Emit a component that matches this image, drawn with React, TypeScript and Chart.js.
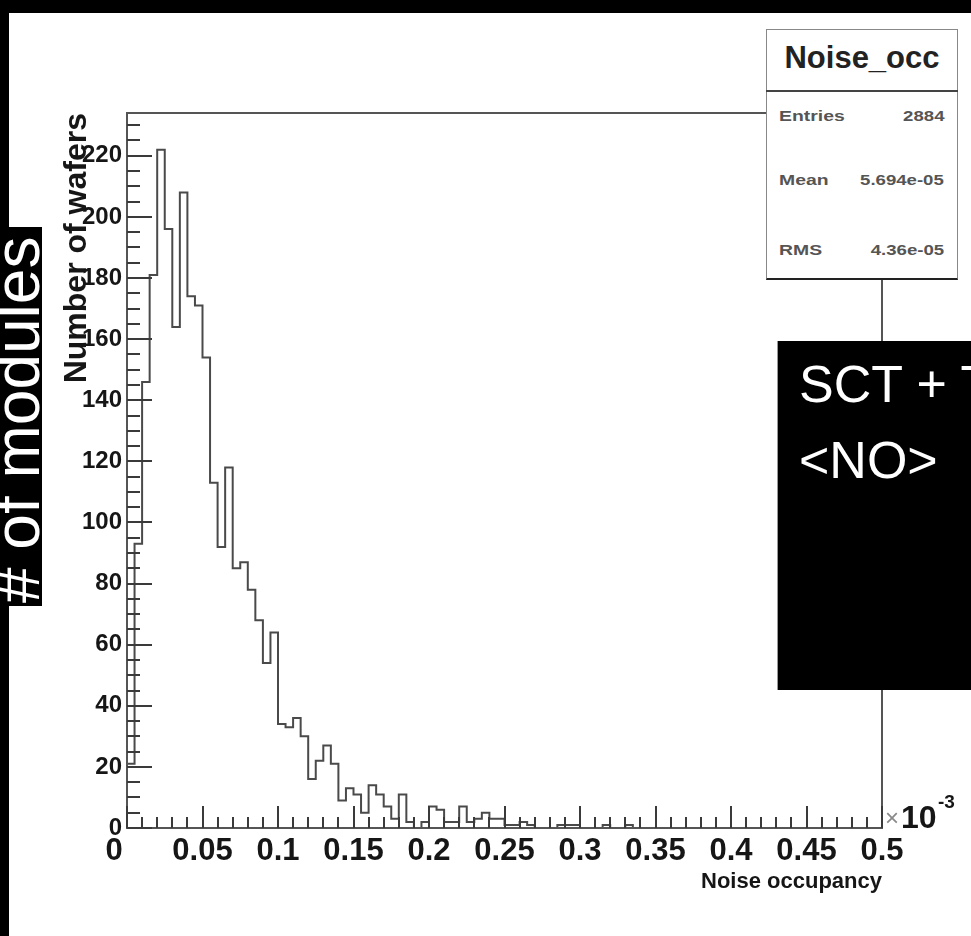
import React, { useEffect, useRef } from "react";
import { Chart, registerables } from "chart.js";

Chart.register(...registerables);

// ---- data (noise occupancy histogram, x in units of 1e-3) ----
const binLow = 0;
const binWidth = 0.005;
const binCounts = [
  21, 93, 146, 181, 222, 196, 164, 208, 174, 171,
  154, 113, 92, 118, 85, 87, 78, 68, 54, 64,
  34, 33, 36, 30, 16, 22, 27, 21, 9, 13,
  11, 5, 14, 11, 7, 3, 11, 2, 0, 2,
  7, 6, 2, 2, 7, 2, 3, 5, 3, 3,
  1, 1, 2, 1, 0, 0, 0, 1, 1, 1,
  0, 0, 0, 1, 0, 0, 1, 0, 0, 0,
  0, 0, 0, 0, 0, 0, 0, 0, 0, 0,
  0, 0, 0, 0, 0, 0, 0, 0, 0, 0,
  0, 0, 0, 0, 0, 0, 0, 0, 0, 0,
];
const xTickValues = [0, 0.05, 0.1, 0.15, 0.2, 0.25, 0.3, 0.35, 0.4, 0.45, 0.5];
const xTickLabels = ["0", "0.05", "0.1", "0.15", "0.2", "0.25", "0.3", "0.35", "0.4", "0.45", "0.5"];
const yTickValues = [0, 20, 40, 60, 80, 100, 120, 140, 160, 180, 200, 220];
const yTickLabels = ["0", "20", "40", "60", "80", "100", "120", "140", "160", "180", "200", "220"];
const xMin = 0;
const xMax = 0.5;
const yMin = 0;
const yMax = 234;
const statsTitle = "Noise_occ";
const statsNames = ["Entries", "Mean", "RMS"];
const statsValues = ["2884", "5.694e-05", "4.36e-05"];

const FONT = "'Liberation Sans', Arial, Helvetica, sans-serif";

const frameTicks = {
  id: "frameTicks",
  afterDatasetsDraw(chart: any) {
    const { ctx, chartArea: a, scales } = chart;
    const x = scales.x;
    const y = scales.y;
    ctx.save();
    ctx.strokeStyle = "#555";
    ctx.lineWidth = 2;
    ctx.strokeRect(a.left, a.top, a.right - a.left, a.bottom - a.top);
    ctx.strokeStyle = "#3a3a3a";
    ctx.lineWidth = 2;
    for (let v = 0; v <= yMax; v += 5) {
      const py = Math.round(y.getPixelForValue(v));
      const len = v % 20 === 0 ? 25 : 13;
      ctx.beginPath();
      ctx.moveTo(a.left, py);
      ctx.lineTo(a.left + len, py);
      ctx.stroke();
    }
    for (let i = 0; i <= 50; i++) {
      const px = Math.round(x.getPixelForValue(i * 0.01));
      const len = i % 5 === 0 ? 22 : 11;
      ctx.beginPath();
      ctx.moveTo(px, a.bottom);
      ctx.lineTo(px, a.bottom - len);
      ctx.stroke();
    }
    ctx.restore();
  },
};

export default function App() {
  const ref = useRef<HTMLCanvasElement | null>(null);

  useEffect(() => {
    if (!ref.current) return;
    const points: { x: number; y: number }[] = [{ x: binLow, y: 0 }];
    binCounts.forEach((c, i) => points.push({ x: binLow + i * binWidth, y: c }));
    points.push({ x: binLow + binCounts.length * binWidth, y: 0 });

    const chart = new Chart(ref.current, {
      type: "line",
      data: {
        datasets: [
          {
            data: points,
            stepped: "before",
            borderColor: "#4a4a4a",
            borderWidth: 2,
            pointRadius: 0,
            fill: false,
          } as any,
        ],
      },
      options: {
        animation: false,
        responsive: false,
        maintainAspectRatio: false,
        layout: { padding: { left: 0, top: 113, right: 89, bottom: 0 } },
        plugins: { legend: { display: false }, tooltip: { enabled: false } },
        scales: {
          x: {
            type: "linear",
            min: xMin,
            max: xMax,
            afterBuildTicks: (s: any) => {
              s.ticks = xTickValues.map((v) => ({ value: v }));
            },
            afterFit: (s: any) => {
              s.height = 108;
            },
            grid: { display: false, drawTicks: false },
            border: { display: false },
            ticks: {
              autoSkip: false,
              maxRotation: 0,
              minRotation: 0,
              padding: 5,
              color: "#161616",
              font: { family: FONT, weight: "bold", size: 31 },
              callback: (_v: any, i: number) => (i === 0 ? xTickLabels[i] + "   " : xTickLabels[i]),
            },
            title: {
              display: true,
              text: "Noise occupancy",
              align: "end",
              color: "#161616",
              font: { family: FONT, weight: "bold", size: 22 },
              padding: { top: 0, bottom: 41 },
            },
          },
          y: {
            type: "linear",
            min: yMin,
            max: yMax,
            afterBuildTicks: (s: any) => {
              s.ticks = yTickValues.map((v) => ({ value: v }));
            },
            afterFit: (s: any) => {
              s.width = 127;
            },
            grid: { display: false, drawTicks: false },
            border: { display: false },
            ticks: {
              autoSkip: false,
              padding: 5,
              color: "#161616",
              font: { family: FONT, weight: "bold", size: 24 },
              callback: (_v: any, i: number) => yTickLabels[i],
            },
            title: {
              display: true,
              text: "Number of wafers",
              align: "end",
              color: "#161616",
              font: { family: FONT, weight: "bold", size: 32 },
              padding: { top: 58, bottom: 0 },
            },
          },
        },
      } as any,
      plugins: [frameTicks],
    });
    return () => chart.destroy();
  }, []);

  const abs: React.CSSProperties = { position: "absolute" };

  return (
    <div
      style={{
        position: "fixed",
        left: 0,
        top: 0,
        width: 971,
        height: 936,
        background: "#000",
        overflow: "hidden",
        fontFamily: FONT,
      }}
    >
      <div style={{ ...abs, left: 9, top: 13, right: 0, bottom: 0, background: "#fff" }} />
      <canvas ref={ref} width={971} height={936} style={{ ...abs, left: 0, top: 0 }} />

      {/* x10^-3 exponent */}
      <div style={{ ...abs, left: 885, top: 806, fontSize: 24, lineHeight: 1, color: "#8a8a8a" }}>×</div>
      <div style={{ ...abs, left: 901, top: 801, fontSize: 32, lineHeight: 1, fontWeight: "bold", color: "#161616" }}>10</div>
      <div style={{ ...abs, left: 938, top: 792, fontSize: 19, lineHeight: 1, fontWeight: "bold", color: "#161616" }}>-3</div>

      {/* stats box */}
      <div
        style={{
          ...abs,
          left: 766,
          top: 29,
          width: 192,
          height: 251,
          boxSizing: "border-box",
          background: "#fff",
          border: "1.5px solid #888",
          borderBottom: "2px solid #222",
        }}
      />
      <div style={{ ...abs, left: 766, top: 90, width: 192, height: 0, borderTop: "2px solid #444" }} />
      <div
        style={{
          ...abs,
          left: 766,
          width: 192,
          top: 42,
          textAlign: "center",
          fontSize: 31,
          lineHeight: 1,
          fontWeight: "bold",
          color: "#222",
        }}
      >
        {statsTitle}
      </div>
      {statsNames.map((n, i) => (
        <React.Fragment key={n}>
          <div
            style={{
              ...abs,
              left: 779,
              top: [108, 172, 242][i],
              fontSize: 15.5,
              lineHeight: 1,
              fontWeight: "bold",
              color: "#555",
              transform: "scaleX(1.25)",
              transformOrigin: "0 0",
              whiteSpace: "nowrap",
            }}
          >
            {n}
          </div>
          <div
            style={{
              ...abs,
              right: 971 - 944,
              top: [108, 172, 242][i],
              fontSize: 15.5,
              lineHeight: 1,
              fontWeight: "bold",
              color: "#555",
              transform: "scaleX(1.2)",
              transformOrigin: "100% 0",
              whiteSpace: "nowrap",
            }}
          >
            {statsValues[i]}
          </div>
        </React.Fragment>
      ))}

      {/* right black annotation box */}
      <div
        style={{
          ...abs,
          left: 777,
          top: 341,
          width: 200,
          height: 349,
          background: "#000",
          borderLeft: "1px solid #999",
          overflow: "hidden",
        }}
      />
      <div style={{ ...abs, left: 799, top: 358, fontSize: 52, lineHeight: 1, color: "#fff", whiteSpace: "nowrap" }}>
        SCT + T
      </div>
      <div style={{ ...abs, left: 799, top: 434, fontSize: 52, lineHeight: 1, color: "#fff", whiteSpace: "nowrap" }}>
        &lt;NO&gt;
      </div>

      {/* left black label box */}
      <div style={{ ...abs, left: 0, top: 227, width: 42, height: 379, background: "#000", overflow: "hidden" }}>
        <div
          style={{
            ...abs,
            left: -15,
            top: 376,
            fontSize: 64,
            lineHeight: 1,
            color: "#fff",
            whiteSpace: "nowrap",
            transformOrigin: "0 0",
            transform: "rotate(-90deg)",
          }}
        >
          # of modules
        </div>
      </div>
    </div>
  );
}
